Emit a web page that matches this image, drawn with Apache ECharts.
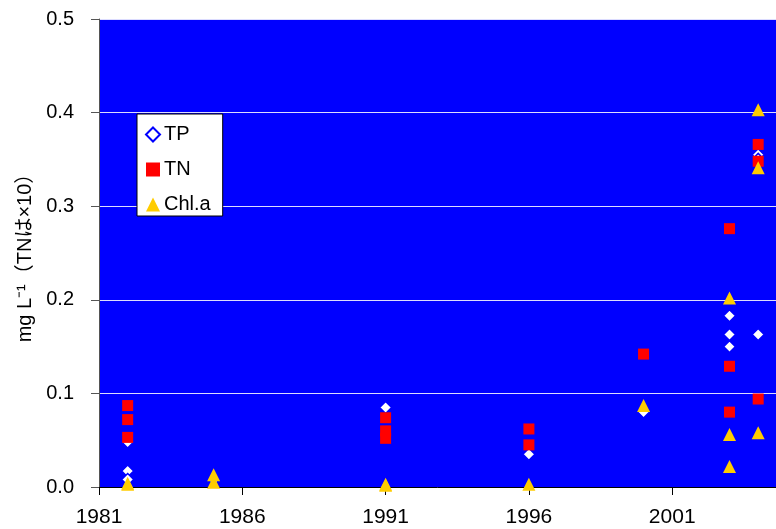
<!DOCTYPE html>
<html>
<head>
<meta charset="utf-8">
<script src="https://cdn.jsdelivr.net/npm/echarts@6/dist/echarts.min.js"></script>
<style>
  html, body { margin: 0; padding: 0; background: #ffffff; }
  #chart { width: 776px; height: 529px; }
</style>
</head>
<body>
<div id="chart"></div>
<script>
// Year ticks on the horizontal axis
const yearTicks = [1981, 1986, 1991, 1996, 2001, 2006];

// TP (mg/L): [year, value]
const tpData = [
  [1982, 0.048], [1982, 0.017], [1982, 0.008],
  [1985, 0.008],
  [1991, 0.085],
  [1996, 0.035],
  [2000, 0.080],
  [2003, 0.183], [2003, 0.163], [2003, 0.150],
  [2004, 0.355], [2004, 0.350], [2004, 0.163]
];

// TN (mg/L, plotted x10 scale as labelled): [year, value]
const tnData = [
  [1982, 0.087], [1982, 0.072], [1982, 0.053],
  [1991, 0.074], [1991, 0.060], [1991, 0.052],
  [1996, 0.062], [1996, 0.045],
  [2000, 0.142],
  [2003, 0.276], [2003, 0.129], [2003, 0.080],
  [2004, 0.366], [2004, 0.348], [2004, 0.094]
];

// Chlorophyll a: [year, value]
const chlData = [
  [1982, 0.004], [1982, 0.003],
  [1985, 0.013], [1985, 0.005],
  [1991, 0.003], [1991, 0.002],
  [1996, 0.003],
  [2000, 0.087],
  [2003, 0.202], [2003, 0.056], [2003, 0.022],
  [2004, 0.403], [2004, 0.341], [2004, 0.058]
];

const yMin = 0, yMax = 0.5, yStep = 0.1;

const chart = echarts.init(document.getElementById('chart'), null, { renderer: 'canvas' });

const latin = '"Liberation Sans", Arial, sans-serif';

chart.setOption({
  animation: false,
  backgroundColor: '#ffffff',
  grid: {
    left: 99,
    top: 19,
    height: 468,
    width: 716.5,
    outerBoundsMode: 'none',
    containLabel: false,
    show: true,
    backgroundColor: '#0000ff',
    borderWidth: 0
  },
  legend: {
    orient: 'vertical',
    left: 137,
    top: 114,
    backgroundColor: '#ffffff',
    borderColor: '#000000',
    borderWidth: 1,
    borderRadius: 0,
    padding: [10, 12, 1, 8],
    itemWidth: 14,
    itemHeight: 14,
    itemGap: 14,
    textStyle: { fontFamily: latin, fontSize: 20, color: '#000000', lineHeight: 21, padding: [0, 0, 0, -1] },
    data: ['TP', 'TN', 'Chl.a']
  },
  xAxis: {
    type: 'value',
    min: yearTicks[0],
    max: yearTicks[yearTicks.length - 1],
    interval: 5,
    splitLine: { show: false },
    axisLine: { show: true, onZero: false, lineStyle: { color: '#000000', width: 1 } },
    axisTick: { show: true, length: 8, lineStyle: { color: '#000000' } },
    axisLabel: {
      margin: 20,
      fontFamily: latin,
      fontSize: 21,
      color: '#000000',
      formatter: v => String(v)
    }
  },
  yAxis: {
    type: 'value',
    min: yMin,
    max: yMax,
    interval: yStep,
    name: 'mg L\u207B\u00B9\uFF08TN\u306F\u00D710\uFF09',
    nameLocation: 'middle',
    nameRotate: 90,
    nameGap: 63,
    nameTextStyle: {
      fontFamily: '"Liberation Sans", "Noto Sans CJK JP", sans-serif',
      fontSize: 20,
      color: '#000000'
    },
    splitLine: { show: true, lineStyle: { color: '#dcdcff', width: 1 } },
    axisLine: { show: true, lineStyle: { color: '#555555', width: 1 } },
    axisTick: { show: true, length: 8, lineStyle: { color: '#555555' } },
    axisLabel: {
      margin: 25,
      fontFamily: latin,
      fontSize: 20,
      color: '#000000',
      formatter: v => v.toFixed(1)
    }
  },
  series: [
    {
      name: 'TP',
      type: 'scatter',
      symbol: 'diamond',
      symbolSize: 12,
      itemStyle: { color: '#ffffff', borderColor: '#0000ff', borderWidth: 1.5, opacity: 1 },
      data: tpData,
      z: 2
    },
    {
      name: 'TN',
      type: 'scatter',
      symbol: 'rect',
      symbolSize: 11,
      itemStyle: { color: '#ff0000', opacity: 1 },
      data: tnData,
      z: 3
    },
    {
      name: 'Chl.a',
      type: 'scatter',
      symbol: 'triangle',
      symbolSize: 13,
      itemStyle: { color: '#ffcc00', opacity: 1 },
      data: chlData,
      z: 4
    }
  ]
});
</script>
</body>
</html>
